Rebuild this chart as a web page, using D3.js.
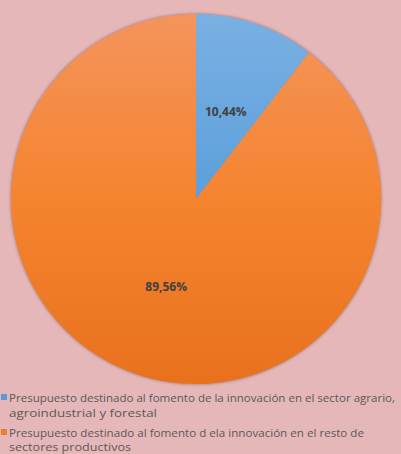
<!DOCTYPE html>
<html>
<head>
<meta charset="utf-8">
<script src="https://cdn.jsdelivr.net/npm/d3@7"></script>
<style>
  body { margin: 0; background: #e6b7b8; }
  svg { display: block; }
</style>
</head>
<body>
<div id="chart"></div>
<script>
// data
const legendLines = [
  ['Presupuesto destinado al fomento de la innovación en el sector agrario,', 'agroindustrial y forestal'],
  ['Presupuesto destinado al fomento d ela innovación en el resto de', 'sectores productivos']
];
const values = [10.44, 89.56];
const valueLabels = ['10,44%', '89,56%'];

const w = 401, h = 454;
const cx = 196, cy = 199, r = 185;

const svg = d3.select('#chart').append('svg')
  .attr('width', w).attr('height', h);

const defs = svg.append('defs');
// vertical gradients per slice: light at top, saturated middle, darker bottom
const grads = [['#7ab0e3', '#5c9fda', '#3f86c8'], ['#f4945c', '#f5842f', '#e8711e']];
grads.forEach((g, i) => {
  const lg = defs.append('linearGradient')
    .attr('id', 'g' + i)
    .attr('gradientUnits', 'userSpaceOnUse')
    .attr('x1', 0).attr('y1', -r).attr('x2', 0).attr('y2', r);
  lg.append('stop').attr('offset', '0%').attr('stop-color', g[0]);
  lg.append('stop').attr('offset', '50%').attr('stop-color', g[1]);
  lg.append('stop').attr('offset', '100%').attr('stop-color', g[2]);
});
const f = defs.append('filter').attr('id', 'sh')
  .attr('x', '-10%').attr('y', '-10%').attr('width', '120%').attr('height', '120%');
f.append('feGaussianBlur').attr('stdDeviation', 1.5);

const pie = d3.pie().sort(null).value(d => d);
const arc = d3.arc().innerRadius(0).outerRadius(r);
const labelArc = d3.arc().innerRadius(r * 0.5).outerRadius(r * 0.5);

const g = svg.append('g').attr('transform', `translate(${cx},${cy})`);
// soft shadow ring under the pie
g.append('circle')
  .attr('r', r + 0.5)
  .attr('fill', '#7a5a5a')
  .attr('opacity', 0.6)
  .attr('filter', 'url(#sh)');

g.selectAll('path')
  .data(pie(values))
  .enter()
  .append('path')
  .attr('d', arc)
  .attr('fill', (d, i) => `url(#g${i})`);

g.selectAll('text')
  .data(pie(values))
  .enter()
  .append('text')
  .attr('transform', d => `translate(${labelArc.centroid(d)})`)
  .attr('text-anchor', 'middle')
  .attr('dy', '0.35em')
  .style('font-family', '"Open Sans", sans-serif')
  .style('font-weight', 'bold')
  .style('font-size', '12px')
  .attr('fill', '#404040')
  .text((d, i) => valueLabels[i]);

// legend
const legend = svg.append('g');
const markColors = ['#5b9bd5', '#ed7d31'];
const lineY = [[398, 413], [433, 447]];
const lineLen = [[386, 148], [355, 122]];
legendLines.forEach((lines, i) => {
  legend.append('rect')
    .attr('x', 1).attr('y', lineY[i][0] - 4)
    .attr('width', 6).attr('height', 6)
    .attr('fill', markColors[i]);
  lines.forEach((t, j) => {
    legend.append('text')
      .attr('x', 9).attr('y', lineY[i][j])
      .attr('dy', '0.35em')
      .attr('textLength', lineLen[i][j])
      .attr('lengthAdjust', 'spacingAndGlyphs')
      .style('font-family', '"Open Sans", sans-serif')
      .style('font-size', '11.5px')
      .attr('fill', '#595959')
      .text(t);
  });
});
</script>
</body>
</html>
